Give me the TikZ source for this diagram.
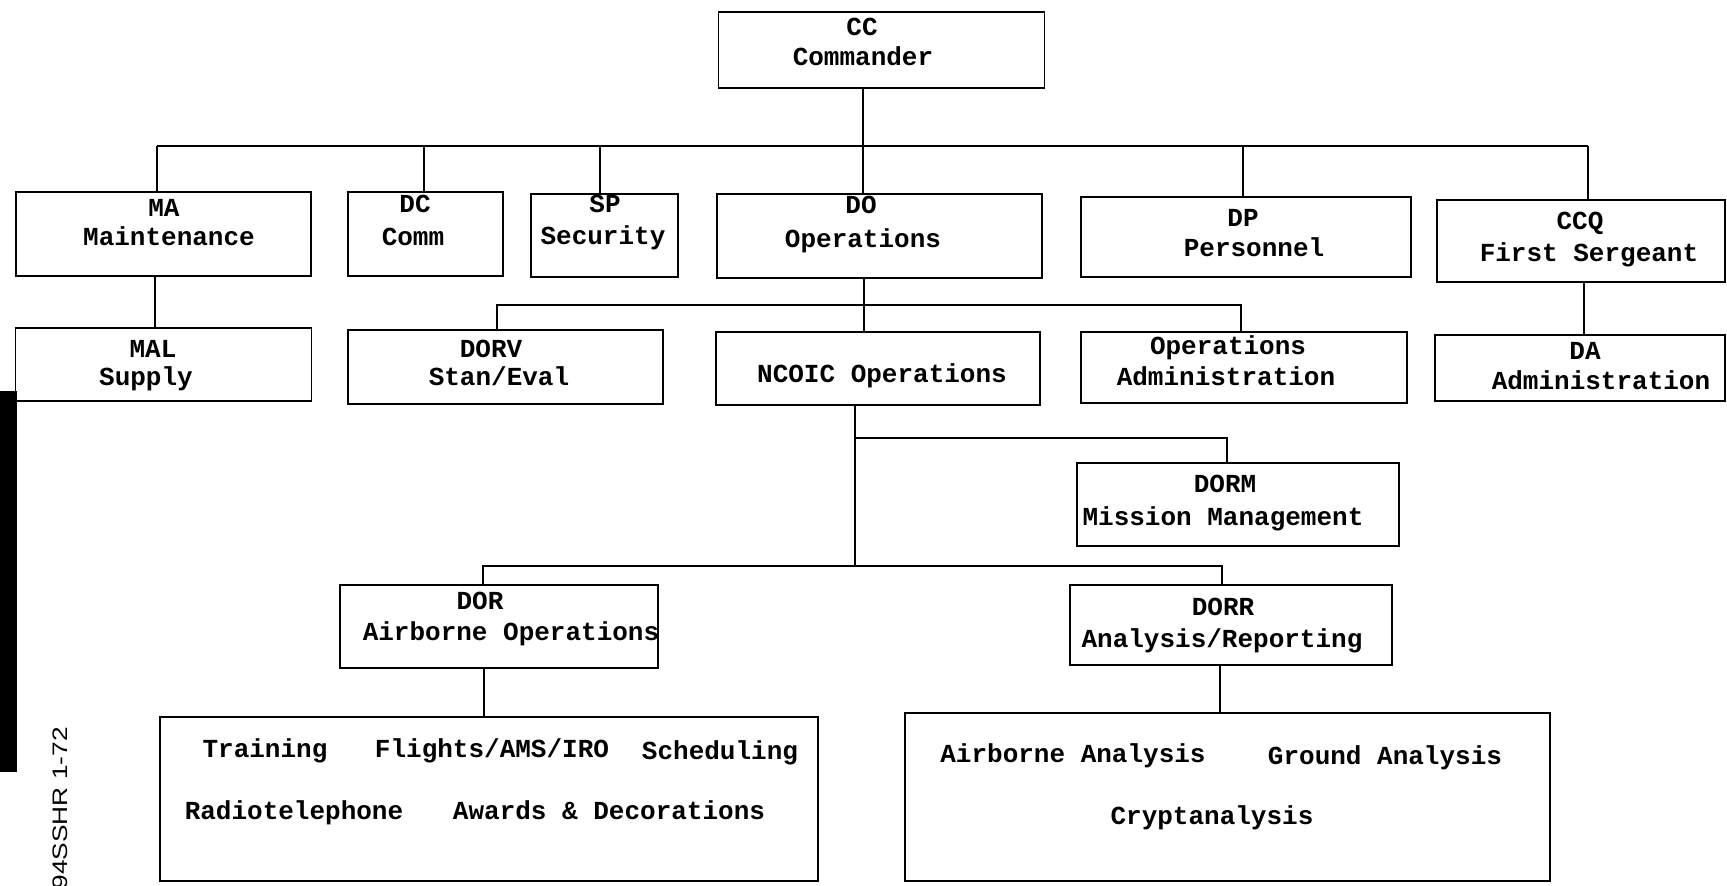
\documentclass[tikz,border=0pt]{standalone}
\usepackage{fontspec}
\setmainfont{Liberation Mono}
\newfontfamily\sidefont{Liberation Sans}
\tikzset{
  box/.style={draw, line width=1.4pt, inner sep=0pt},
  lbl/.style={font=\fontsize{26}{30}\selectfont\bfseries, text height=15pt, text depth=0pt, inner sep=0pt},
  conn/.style={line width=1.4pt},
}
\begin{document}
\begin{tikzpicture}[x=1pt, y=-1pt]
\useasboundingbox (0,0) rectangle (1727,886);
\clip (0,0) rectangle (1727,886);

% boxes
\node[box, minimum width=326pt, minimum height=76pt] (cc) at (881.5,50) {};
\node[box, minimum width=295pt, minimum height=84pt] (ma) at (163.5,234) {};
\node[box, minimum width=155pt, minimum height=84pt] (dc) at (425.5,234) {};
\node[box, minimum width=147pt, minimum height=83pt] (sp) at (604.5,235.5) {};
\node[box, minimum width=325pt, minimum height=84pt] (do) at (879.5,236) {};
\node[box, minimum width=330pt, minimum height=80pt] (dp) at (1246,237) {};
\node[box, minimum width=288pt, minimum height=82pt] (ccq) at (1581,241) {};
\node[box, minimum width=296pt, minimum height=73pt] (mal) at (163.5,364.5) {};
\node[box, minimum width=315pt, minimum height=74pt] (dorv) at (505.5,367) {};
\node[box, minimum width=324pt, minimum height=73pt] (ncoic) at (878,368.5) {};
\node[box, minimum width=326pt, minimum height=71pt] (opsadm) at (1244,367.5) {};
\node[box, minimum width=290pt, minimum height=66pt] (da) at (1580,368) {};
\node[box, minimum width=322pt, minimum height=83pt] (dorm) at (1238,504.5) {};
\node[box, minimum width=318pt, minimum height=83pt] (dor) at (499,626.5) {};
\node[box, minimum width=322pt, minimum height=80pt] (dorr) at (1231,625) {};
\node[box, minimum width=658pt, minimum height=164pt] (listl) at (489,799) {};
\node[box, minimum width=645pt, minimum height=168pt] (listr) at (1227.5,797) {};

% labels
\node[lbl] (cc1) at (862,28) {CC};
\node[lbl] (cc2) at (863,58) {Commander};
\node[lbl] (ma1) at (164,209) {MA};
\node[lbl] (ma2) at (169,238) {Maintenance};
\node[lbl] (dc1) at (415,205) {DC};
\node[lbl] (dc2) at (413,238) {Comm};
\node[lbl] (sp1) at (605,205) {SP};
\node[lbl] (sp2) at (603,237) {Security};
\node[lbl] (do1) at (861,206) {DO};
\node[lbl] (do2) at (863,240) {Operations};
\node[lbl] (dp1) at (1243,219) {DP};
\node[lbl] (dp2) at (1254,249) {Personnel};
\node[lbl] (ccq1) at (1580,222) {CCQ};
\node[lbl] (ccq2) at (1589,254) {First Sergeant};
\node[lbl] (mal1) at (153,350) {MAL};
\node[lbl] (mal2) at (146,378) {Supply};
\node[lbl] (dorv1) at (491,350) {DORV};
\node[lbl] (dorv2) at (499,378) {Stan/Eval};
\node[lbl] (ncoic1) at (882,375) {NCOIC Operations};
\node[lbl] (opsadm1) at (1228,347) {Operations};
\node[lbl] (opsadm2) at (1226,378) {Administration};
\node[lbl] (da1) at (1585,352) {DA};
\node[lbl] (da2) at (1601,382) {Administration};
\node[lbl] (dorm1) at (1225,485) {DORM};
\node[lbl] (dorm2) at (1223,518) {Mission Management};
\node[lbl] (dor1) at (480,602) {DOR};
\node[lbl] (dor2) at (511,633) {Airborne Operations};
\node[lbl] (dorr1) at (1223,608) {DORR};
\node[lbl] (dorr2) at (1222,640) {Analysis/Reporting};
\node[lbl] (l1) at (265,750) {Training};
\node[lbl] (l2) at (492,750) {Flights/AMS/IRO};
\node[lbl] (l3) at (720,752) {Scheduling};
\node[lbl] (l4) at (294,812) {Radiotelephone};
\node[lbl] (l5) at (609,812) {Awards \& Decorations};
\node[lbl] (r1) at (1073,755) {Airborne Analysis};
\node[lbl] (r2) at (1385,757) {Ground Analysis};
\node[lbl] (r3) at (1212,817) {Cryptanalysis};

% junction coordinates
\coordinate (j0) at (863,146);
\coordinate (jma) at (157,146);
\coordinate (jdc) at (424,146);
\coordinate (jsp) at (600,146);
\coordinate (jdp) at (1243,146);
\coordinate (jccq) at (1588,146);
\coordinate (jmal) at (155,300);
\coordinate (jdo) at (864,305);
\coordinate (jdorv) at (497,305);
\coordinate (jops) at (1241,305);
\coordinate (jda) at (1584,300);
\coordinate (jnc) at (855,438);
\coordinate (jdorm) at (1227,438);
\coordinate (jlow) at (855,566);
\coordinate (jdor) at (483,566);
\coordinate (jdorr) at (1222,566);
\coordinate (jll) at (484,700);
\coordinate (jlr) at (1220,700);

% connectors
\draw[conn] (cc.south -| j0) -- (do.north -| j0);
\draw[conn] (jma) -- (jccq);
\draw[conn] (jma) -- (ma.north -| jma);
\draw[conn] (jdc) -- (dc.north -| jdc);
\draw[conn] (jsp) -- (sp.north -| jsp);
\draw[conn] (jdp) -- (dp.north -| jdp);
\draw[conn] (jccq) -- (ccq.north -| jccq);
\draw[conn] (ma.south -| jmal) -- (mal.north -| jmal);
\draw[conn] (do.south -| jdo) -- (ncoic.north -| jdo);
\draw[conn] (dorv.north -| jdorv) -- (jdorv) -- (jops) -- (opsadm.north -| jops);
\draw[conn] (ccq.south -| jda) -- (da.north -| jda);
\draw[conn] (ncoic.south -| jnc) -- (jlow);
\draw[conn] (jnc) -- (jdorm) -- (dorm.north -| jdorm);
\draw[conn] (dor.north -| jdor) -- (jdor) -- (jdorr) -- (dorr.north -| jdorr);
\draw[conn] (dor.south -| jll) -- (listl.north -| jll);
\draw[conn] (dorr.south -| jlr) -- (listr.north -| jlr);

% page margin marks
\fill (0,391) rectangle (17,772);
\node[rotate=90, anchor=east, inner sep=0pt, font=\sidefont\fontsize{21}{21}\selectfont, xscale=1.25] (page) at (60,727) {94SSHR 1-72};
\end{tikzpicture}
\end{document}
